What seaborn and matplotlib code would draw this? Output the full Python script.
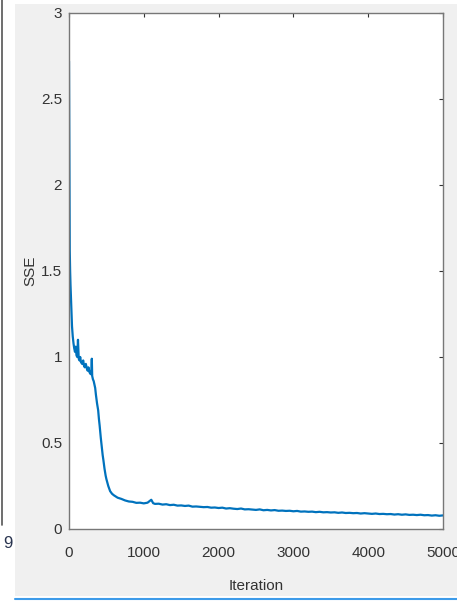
import matplotlib
matplotlib.use("Agg")
import matplotlib.pyplot as plt
import seaborn as sns
import pandas as pd
from matplotlib.lines import Line2D
from matplotlib.patches import Rectangle

# SSE per training iteration
iterations = [0, 5, 10, 15, 20, 30, 40, 50, 60, 70, 80, 90, 100, 110, 120, 130,
              140, 150, 160, 175, 190, 200, 210, 225, 240, 250, 260, 275, 290, 300,
              305, 310, 320, 330, 340, 350, 360, 375, 390, 400, 410, 425, 440, 450,
              460, 475, 490, 500, 525, 550, 575, 600, 650, 700, 750, 800, 850, 900,
              950, 1000, 1050, 1100, 1125, 1150, 1200, 1250, 1300, 1350, 1400, 1450,
              1500, 1550, 1600, 1650, 1700, 1750, 1800, 1850, 1900, 1950, 2000, 2050,
              2100, 2150, 2200, 2250, 2300, 2350, 2400, 2450, 2500, 2550, 2600, 2650,
              2700, 2750, 2800, 2850, 2900, 2950, 3000, 3050, 3100, 3150, 3200, 3250,
              3300, 3350, 3400, 3450, 3500, 3550, 3600, 3650, 3700, 3750, 3800, 3850,
              3900, 3950, 4000, 4050, 4100, 4150, 4200, 4250, 4300, 4350, 4400, 4450,
              4500, 4550, 4600, 4650, 4700, 4750, 4800, 4850, 4900, 4950, 5000]
sse = [2.72, 2.10, 1.62, 1.50, 1.42, 1.30, 1.18, 1.12, 1.08, 1.05, 1.03, 1.06, 1.01,
       1.00, 1.10, 0.99, 0.98, 1.00, 0.97, 0.96, 0.98, 0.95, 0.94, 0.96, 0.93, 0.92,
       0.94, 0.91, 0.90, 0.92, 0.99, 0.89, 0.87, 0.86, 0.84, 0.82, 0.78, 0.73, 0.69,
       0.64, 0.60, 0.53, 0.47, 0.43, 0.40, 0.35, 0.31, 0.29, 0.25, 0.22, 0.205, 0.196,
       0.182, 0.175, 0.166, 0.160, 0.158, 0.152, 0.153, 0.149, 0.153, 0.170, 0.150,
       0.146, 0.147, 0.142, 0.144, 0.139, 0.141, 0.136, 0.137, 0.134, 0.136, 0.130,
       0.131, 0.129, 0.127, 0.128, 0.124, 0.125, 0.122, 0.124, 0.119, 0.121, 0.118,
       0.116, 0.119, 0.114, 0.115, 0.113, 0.111, 0.114, 0.109, 0.111, 0.108, 0.110,
       0.106, 0.107, 0.105, 0.106, 0.103, 0.105, 0.101, 0.102, 0.100, 0.101, 0.098,
       0.100, 0.097, 0.098, 0.096, 0.097, 0.094, 0.096, 0.093, 0.094, 0.092, 0.093,
       0.090, 0.092, 0.090, 0.088, 0.090, 0.087, 0.088, 0.086, 0.087, 0.084, 0.086,
       0.083, 0.085, 0.082, 0.083, 0.081, 0.083, 0.080, 0.081, 0.078, 0.080, 0.077,
       0.079]
x_ticks = [0, 1000, 2000, 3000, 4000, 5000]
y_ticks = [0, 0.5, 1, 1.5, 2, 2.5, 3]
y_tick_labels = ["0", "0.5", "1", "1.5", "2", "2.5", "3"]

df = pd.DataFrame({"Iteration": iterations, "SSE": sse})

sns.set_style("white")
plt.rcParams["font.family"] = ["Liberation Sans", "DejaVu Sans"]
fs = 11

fig = plt.figure(figsize=(4.57, 6.01), dpi=100)
fig.patch.set_facecolor("white")

# grey MATLAB figure background plus the cropped bits around it
bg = Rectangle((15 / 457, 5 / 601), 442 / 457, 592 / 601,
               transform=fig.transFigure, facecolor="#f0f0f0", edgecolor="none")
bg.set_zorder(-10)
fig.add_artist(bg)
fig.add_artist(Line2D([1.5 / 457, 1.5 / 457], [1 - 525 / 601, 1.0],
                      transform=fig.transFigure, color="#555555", lw=1.2))
fig.add_artist(Line2D([15 / 457, 1.0], [2.5 / 601, 2.5 / 601],
                      transform=fig.transFigure, color="#3d9be9", lw=1.5))
fig.text(8 / 457, 1 - 543 / 601, "9", ha="center", va="center",
         fontsize=12, color="#2a3550")

ax = fig.add_axes([69 / 457, 1 - 529 / 601, 374 / 457, 516 / 601])
ax.set_zorder(1)
ax.set_facecolor("white")
sns.lineplot(data=df, x="Iteration", y="SSE", ax=ax, color="#0072BD",
             linewidth=1.6, estimator=None, sort=False)

ax.set_xlim(0, 5000)
ax.set_ylim(0, 3)
ax.set_xticks(x_ticks)
ax.set_xticklabels([str(t) for t in x_ticks])
ax.set_yticks(y_ticks)
ax.set_yticklabels(y_tick_labels)

for s in ax.spines.values():
    s.set_visible(True)
    s.set_color("#777777")
    s.set_linewidth(1.0)

ax.tick_params(axis="both", direction="in", length=3, width=0.8, color="#333333",
               top=True, right=True, labelsize=fs, labelcolor="#333333")
ax.tick_params(axis="x", pad=12)
ax.tick_params(axis="y", pad=5)

ax.set_xlabel("Iteration", fontsize=fs, color="#333333", labelpad=14)
ax.set_ylabel("SSE", fontsize=fs, color="#333333")
ax.yaxis.set_label_coords(-32 / 374, 0.5)

fig.savefig("out.png", dpi=100)
